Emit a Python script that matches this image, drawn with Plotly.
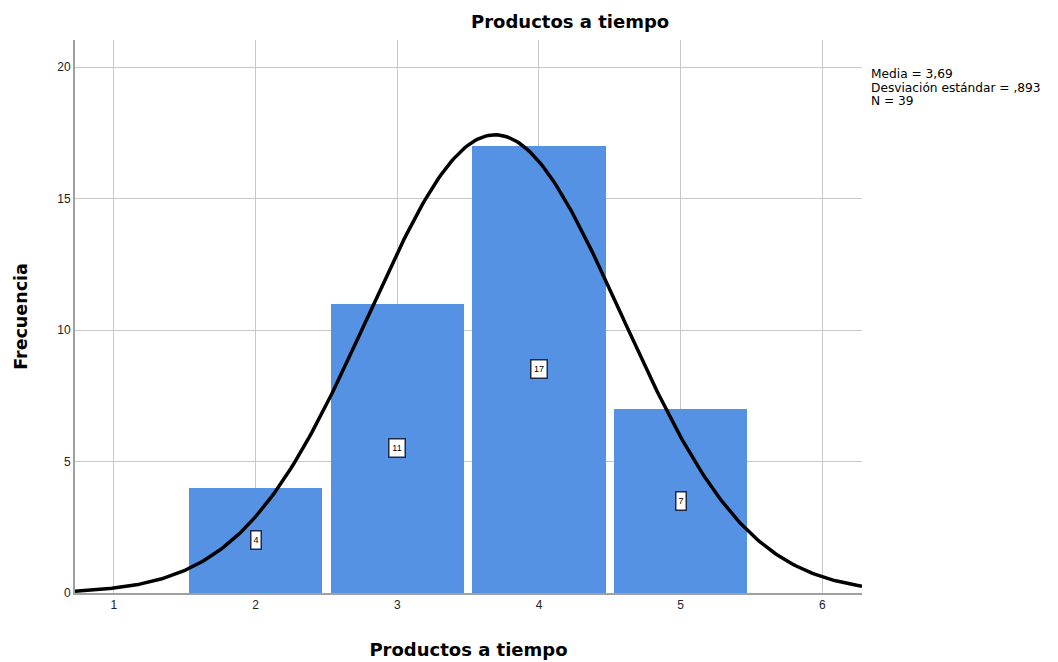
import numpy as np
import plotly.graph_objects as go

# Data
categories = [2, 3, 4, 5]
frequencies = [4, 11, 17, 7]
bar_labels = ["4", "11", "17", "7"]
x_ticks = [1, 2, 3, 4, 5, 6]
y_ticks = [0, 5, 10, 15, 20]
stats_lines = ["Media = 3,69", "Desviación estándar = ,893", "N = 39"]
mean = 3.69
sd = 0.893
n = 39
bin_width = 1.0

# normal curve from stated stats
cx = np.linspace(0.725, 6.28, 300)
cy = n * bin_width / (sd * np.sqrt(2 * np.pi)) * np.exp(-0.5 * ((cx - mean) / sd) ** 2)

fig = go.Figure()
fig.add_trace(go.Bar(x=categories, y=frequencies, width=0.94,
                     marker=dict(color="#5592E3", line=dict(width=0)),
                     hoverinfo="skip"))
fig.add_trace(go.Scatter(x=cx, y=cy, mode="lines",
                         line=dict(color="black", width=3.5), hoverinfo="skip"))

for c, f, lab in zip(categories, frequencies, bar_labels):
    fig.add_annotation(x=c, y=f / 2, text=lab, showarrow=False,
                       font=dict(size=9, color="black", family="Arial"),
                       bgcolor="white", bordercolor="#1F2A44", borderwidth=1.5,
                       borderpad=1, width=6 * len(lab) + 1, height=15)

for i, line in enumerate(stats_lines):
    fig.add_annotation(xref="paper", yref="paper", x=(861 - 67) / 787,
                       y=(585 - 57 - 13.5 * i) / 553,
                       xanchor="left", yanchor="top", align="left", showarrow=False,
                       text=line,
                       font=dict(size=12.2, color="black", family="DejaVu Sans"))

fig.add_annotation(xref="paper", yref="paper", x=(570 - 75) / 787, y=(593 - 21) / 553,
                   xanchor="center", yanchor="middle", showarrow=False,
                   text="<b>Productos a tiempo</b>",
                   font=dict(size=18, color="black", family="DejaVu Sans"))

fig.update_layout(
    width=1058, height=662,
    margin=dict(l=67, r=204, t=32, b=77),
    paper_bgcolor="white", plot_bgcolor="white",
    showlegend=False, bargap=0,
    font=dict(family="Arial", color="black"),
    xaxis=dict(range=[0.725, 6.28], tickvals=x_ticks, ticktext=[str(t) for t in x_ticks],
               showgrid=True, gridcolor="#C8C8C8", gridwidth=1,
               showline=True, linecolor="#A0A0A0", linewidth=2, zeroline=False,
               ticks="", tickfont=dict(size=12, color="#222"),
               title=dict(text="<b>Productos a tiempo</b>",
                          font=dict(size=18, color="black", family="DejaVu Sans"),
                          standoff=32)),
    yaxis=dict(range=[0, 21.03], tickvals=y_ticks, ticktext=[str(t) for t in y_ticks],
               showgrid=True, gridcolor="#C8C8C8", gridwidth=1,
               showline=True, linecolor="#A0A0A0", linewidth=2, zeroline=False,
               ticks="", tickfont=dict(size=12, color="#222"),
               title=dict(text="<b>Frecuencia</b>",
                          font=dict(size=17.5, color="black", family="DejaVu Sans"),
                          standoff=25)),
)

fig.write_html("out.html")
